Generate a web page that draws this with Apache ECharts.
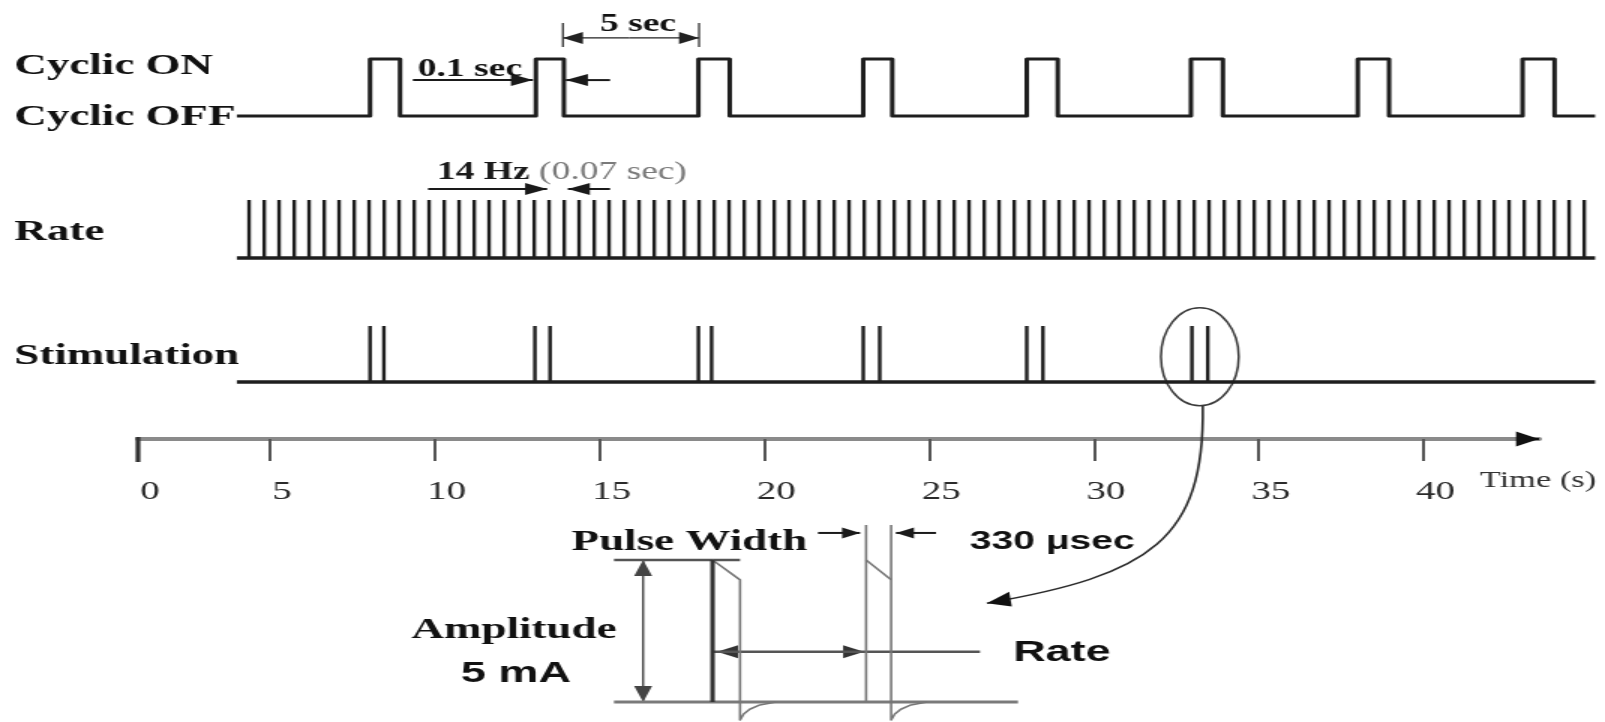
<!DOCTYPE html>
<html><head><meta charset="utf-8">
<script src="https://cdn.jsdelivr.net/npm/echarts@6/dist/echarts.min.js"></script>
<style>
html,body{margin:0;padding:0;background:#fff;overflow:hidden;}
#wrap{width:1605px;height:722px;overflow:hidden;position:relative;}
#c{width:1070px;height:722px;transform:scaleX(1.5);transform-origin:0 0;}
</style></head><body><div id="wrap"><div id="c"></div></div>
<script>
// ---------------- data (time in seconds, schematic) ----------------
const rowLabels = ['Cyclic ON', 'Cyclic OFF', 'Rate', 'Stimulation'];
const traceSpan = [4.0, 45.2];
const cyclicOn  = [8.04, 13.07, 18.0, 23.0, 27.96, 32.94, 38.0, 43.0];
const cyclicOff = [8.95, 13.92, 18.95, 23.88, 28.9, 33.91, 38.95, 43.97];
const rateSpikes = [4.37,4.83,5.28,5.74,6.19,6.65,7.10,7.56,8.01,8.47,8.92,9.38,9.83,10.29,10.74,11.20,11.65,12.11,12.56,13.02,13.47,13.93,14.38,14.84,15.29,15.75,16.20,16.66,17.11,17.57,18.02,18.48,18.93,19.39,19.84,20.30,20.75,21.21,21.66,22.12,22.57,23.03,23.48,23.94,24.39,24.85,25.30,25.76,26.21,26.67,27.12,27.58,28.03,28.49,28.94,29.40,29.85,30.31,30.76,31.22,31.67,32.13,32.58,33.04,33.49,33.95,34.40,34.86,35.31,35.77,36.22,36.68,37.13,37.59,38.04,38.50,38.95,39.41,39.86,40.32,40.77,41.23,41.68,42.14,42.59,43.05,43.50,43.96,44.41,44.87];
const stimSpikes = [8.04, 8.46, 13.04, 13.5, 18.0, 18.4, 23.0, 23.5, 27.96, 28.45, 32.97, 33.45];
const timeTickValues = [1, 5, 10, 15, 20, 25, 30, 35, 40];
const timeTickLabels = ['0', '5', '10', '15', '20', '25', '30', '35', '40'];
const timeAxisEnd = 43.5;
// inset pulse (schematic units across, mA up)
const amplitudeMA = 5;
const droopMA = 4.3;
const undershootMA = -0.63;
const insetPulseStart = [24.4, 62.4];
const insetPulseEnd = [31.2, 68.6];
const recoveryTail = [[0.9, -0.42], [2.4, -0.25], [4.9, -0.1], [8.9, 0]];
const insetSpan = [0, 100];
const insetRateLine = [24.4, 90.6, 1.77];

// ---------------- layout / styles ----------------
const SX = 1.5;
const SERIF = '"Liberation Serif","Times New Roman",serif';
const SANS = '"Liberation Sans",Arial,sans-serif';
const INK = '#1e1e1e';

const cycPts = [[traceSpan[0], 0]];
cyclicOn.forEach((t, i) => { cycPts.push([t, 0], [t, 1], [cyclicOff[i], 1], [cyclicOff[i], 0]); });
cycPts.push([traceSpan[1], 0]);

function head(tip, from, len, half) {
  const dx = (tip[0] - from[0]) * SX, dy = tip[1] - from[1];
  const L = Math.hypot(dx, dy) || 1, ux = dx / L, uy = dy / L;
  const bx = tip[0] * SX - ux * len, by = tip[1] - uy * len;
  const px = -uy, py = ux;
  return [[tip[0], tip[1]], [(bx + px * half) / SX, by + py * half], [(bx - px * half) / SX, by - py * half]];
}
function arrowSeries(grid, rows, color, width, len, half) {
  return {
    type: 'custom', xAxisIndex: grid, yAxisIndex: grid, clip: false, silent: true,
    encode: {x: [0, 2], y: [1, 3]},
    data: rows,
    renderItem(params, api) {
      const a = api.coord([api.value(0), api.value(1)]);
      const b = api.coord([api.value(2), api.value(3)]);
      const h = api.value(4);
      const ch = [{type: 'line', shape: {x1: a[0], y1: a[1], x2: b[0], y2: b[1]}, style: {stroke: color, lineWidth: width}}];
      if (h >= 1) ch.push({type: 'polygon', shape: {points: head(b, a, len, half)}, style: {fill: color}});
      if (h >= 2) ch.push({type: 'polygon', shape: {points: head(a, b, len, half)}, style: {fill: color}});
      return {type: 'group', children: ch};
    }
  };
}
function textSeries(grid, notes) {
  return {
    type: 'custom', xAxisIndex: grid, yAxisIndex: grid, clip: false, silent: true,
    encode: {x: 0, y: 1},
    data: notes.map(n => [n.x, n.y]),
    renderItem(params, api) {
      const n = notes[params.dataIndex];
      const p = api.coord([n.x, n.y]);
      const st = {text: n.text, align: n.align || 'left', verticalAlign: 'middle',
        fill: n.color || '#111', fontSize: n.size, fontFamily: n.family || SERIF, fontWeight: n.weight || 'bold'};
      if (n.rich) st.rich = n.rich;
      return {type: 'text', x: p[0], y: p[1], style: st};
    }
  };
}
function spikeSeries(grid, times, width) {
  return {
    type: 'custom', xAxisIndex: grid, yAxisIndex: grid, clip: false, silent: true,
    encode: {x: 0, y: 1},
    data: times.map(t => [t, 1]),
    renderItem(params, api) {
      const a = api.coord([api.value(0), 0]);
      const b = api.coord([api.value(0), api.value(1)]);
      return {type: 'line', shape: {x1: a[0], y1: a[1], x2: b[0], y2: b[1]}, style: {stroke: INK, lineWidth: width}};
    }
  };
}
function lineSeries(grid, data, color, width) {
  return {type: 'line', xAxisIndex: grid, yAxisIndex: grid, data, symbol: 'none', clip: false, silent: true,
    lineStyle: {color, width, join: 'round', cap: 'butt'}};
}

const grids = [
  {left: 70, width: 1000, top: 59, height: 57},
  {left: 70, width: 1000, top: 200, height: 58},
  {left: 70, width: 1000, top: 326, height: 56},
  {left: 92, width: 934, top: 429, height: 10},
  {left: 409.33, width: 269.33, top: 523, height: 199}
].map(g => Object.assign({show: false, containLabel: false, outerBoundsMode: 'none'}, g));

const hidden = {show: false};
const xAxes = [0, 1, 2].map(i => ({type: 'value', gridIndex: i, min: 0, max: 45.5, show: false}));
xAxes.push({
  type: 'value', gridIndex: 3, min: timeTickValues[0], max: timeAxisEnd, position: 'bottom',
  axisLine: {show: true, onZero: false, lineStyle: {color: '#8a8a8a', width: 4}},
  axisTick: {show: true, customValues: timeTickValues, length: 22, lineStyle: {color: '#555', width: 2}},
  axisLabel: {show: true, customValues: timeTickValues, margin: 40, color: '#2a2a2a',
    fontFamily: SERIF, fontSize: 26, lineHeight: 26, padding: [0, 0, 0, 16],
    formatter: v => timeTickLabels[timeTickValues.indexOf(v)] ?? ''},
  splitLine: hidden
});
xAxes.push({type: 'value', gridIndex: 4, min: insetSpan[0], max: insetSpan[1], show: false});
const yAxes = [0, 1, 2, 3].map(i => ({type: 'value', gridIndex: i, min: 0, max: 1, show: false}));
yAxes.push({type: 'value', gridIndex: 4, min: -0.7, max: 6.3, show: false});

// row labels (layout text)
const rowLabelY = [66, 117, 232, 356];
const graphic = rowLabels.map((t, i) => ({
  type: 'text', x: 9.5, y: rowLabelY[i], silent: true,
  style: {text: t, fill: '#111', font: 'bold 30px ' + SERIF, align: 'left', verticalAlign: 'middle'}
}));

// inset polylines
const tail = (x0) => recoveryTail.map(([dx, y]) => [x0 + dx, y]);
const p1 = [[insetPulseStart[0], amplitudeMA], [insetPulseEnd[0], droopMA], [insetPulseEnd[0], undershootMA], ...tail(insetPulseEnd[0])];
const p2Top = [[insetPulseStart[1], amplitudeMA], [insetPulseEnd[1], droopMA]];
const p2Right = [[insetPulseEnd[1], 6.23], [insetPulseEnd[1], undershootMA], ...tail(insetPulseEnd[1])];

const series = [
  lineSeries(0, cycPts, INK, 3),
  lineSeries(1, [[traceSpan[0], 0], [traceSpan[1], 0]], INK, 3.5),
  spikeSeries(1, rateSpikes, 2.4),
  lineSeries(2, [[traceSpan[0], 0], [traceSpan[1], 0]], INK, 3.5),
  spikeSeries(2, stimSpikes, 2.4),
  // highlighted pair ellipse + curved pointer
  {
    type: 'custom', xAxisIndex: 2, yAxisIndex: 2, clip: false, silent: true, encode: {x: 0, y: 1},
    data: [[(stimSpikes[10] + stimSpikes[11]) / 2, 0.45]],
    renderItem(params, api) {
      const c = api.coord([api.value(0), api.value(1)]);
      const sz = api.size([1.18, 0.875]);
      const P = [[33.3, -0.43], [33.36, -2.82], [31.7, -3.45], [26.75, -3.95]].map(q => api.coord(q));
      return {type: 'group', children: [
        {type: 'ellipse', shape: {cx: c[0], cy: c[1], rx: sz[0], ry: sz[1]}, style: {stroke: '#3a3a3a', lineWidth: 1.5, fill: null}},
        {type: 'bezierCurve', shape: {x1: P[0][0], y1: P[0][1], cpx1: P[1][0], cpy1: P[1][1], cpx2: P[2][0], cpy2: P[2][1], x2: P[3][0], y2: P[3][1]},
          style: {stroke: '#2a2a2a', lineWidth: 1.6, fill: null}},
        {type: 'polygon', shape: {points: head(P[3], P[2], 24, 7.5)}, style: {fill: '#111'}}
      ]};
    }
  },
  // cyclic annotations
  arrowSeries(0, [[9.34, 0.63, 12.98, 0.63, 1], [15.32, 0.63, 13.98, 0.63, 1]], '#1a1a1a', 2, 22, 6),
  arrowSeries(0, [[15.9, 1.37, 13.89, 1.37, 1], [15.9, 1.37, 18.02, 1.37, 1]], '#222', 1.3, 20, 6),
  arrowSeries(0, [[13.89, 1.21, 13.89, 1.63, 0], [18.02, 1.21, 18.02, 1.63, 0]], '#333', 1.3, 0, 0),
  textSeries(0, [
    {x: 9.49, y: 0.81, text: '0.1 sec', size: 25},
    {x: 16.17, y: 1.61, text: '5 sec', size: 25, align: 'center'}
  ]),
  // rate annotations
  arrowSeries(1, [[9.80, 1.19, 13.41, 1.19, 1], [15.32, 1.19, 14.04, 1.19, 1]], '#1a1a1a', 2, 22, 6),
  textSeries(1, [{x: 10.07, y: 1.47, text: '{b|14 Hz} {n|(0.07 sec)}', size: 25,
    rich: {b: {fontFamily: SERIF, fontSize: 25, fontWeight: 'bold', fill: '#1a1a1a', color: '#1a1a1a'},
           n: {fontFamily: SERIF, fontSize: 25, fontWeight: 'normal', fill: '#7a7a7a', color: '#7a7a7a'}}}]),
  // time axis extras: bold origin mark, arrow head, title
  arrowSeries(3, [[timeTickValues[0], 0.2, timeTickValues[0], -2.3, 0]], '#333', 3.2, 0, 0),
  arrowSeries(3, [[timeAxisEnd - 0.6, 0, timeAxisEnd, 0, 1]], '#111', 2, 23, 7.5),
  textSeries(3, [{x: 41.7, y: -4.2, text: 'Time (s)', size: 23, weight: 'normal', color: '#333'}]),
  // inset waveform
  lineSeries(4, [[insetSpan[0], 0], [insetSpan[1], 0]], '#7a7a7a', 3),
  lineSeries(4, [[insetSpan[0], amplitudeMA], [insetPulseEnd[0], amplitudeMA]], '#555', 2.5),
  lineSeries(4, [[insetRateLine[0], insetRateLine[2]], [insetRateLine[1], insetRateLine[2]]], '#555', 2.5),
  lineSeries(4, p1, '#777', 1.6),
  lineSeries(4, [[insetPulseStart[1], 6.23], [insetPulseStart[1], 0]], '#777', 1.6),
  lineSeries(4, p2Top, '#777', 1.6),
  lineSeries(4, p2Right, '#777', 1.6),
  lineSeries(4, [[insetPulseStart[0], 0], [insetPulseStart[0], amplitudeMA]], '#333', 3),
  arrowSeries(4, [[50.5, 5.95, 60.9, 5.95, 1], [79.7, 5.95, 69.8, 5.95, 1]], '#1a1a1a', 2, 18, 5.5),
  arrowSeries(4, [[7.2, 0, 7.2, amplitudeMA, 2]], '#444', 1.4, 16, 9),
  arrowSeries(4, [[25.5, insetRateLine[2], 61.9, insetRateLine[2], 2]], '#333', 1.2, 21, 6.5),
  textSeries(4, [
    {x: 47.8, y: 5.63, text: 'Pulse Width', size: 30, align: 'right'},
    {x: 88.1, y: 5.63, text: '330 \u03bcsec', size: 26, family: SANS},
    {x: -24.75, y: 2.54, text: 'Amplitude', size: 30, align: 'center'},
    {x: -24.3, y: 0.99, text: '5 mA', size: 30, family: SANS, align: 'center'},
    {x: 98.8, y: 1.73, text: 'Rate', size: 30, family: SANS}
  ])
];

const chart = echarts.init(document.getElementById('c'), null, {renderer: 'canvas', width: 1070, height: 722});
chart.setOption({
  animation: false,
  backgroundColor: '#ffffff',
  textStyle: {fontFamily: SERIF},
  grid: grids, xAxis: xAxes, yAxis: yAxes,
  graphic, series
});
</script></body></html>
